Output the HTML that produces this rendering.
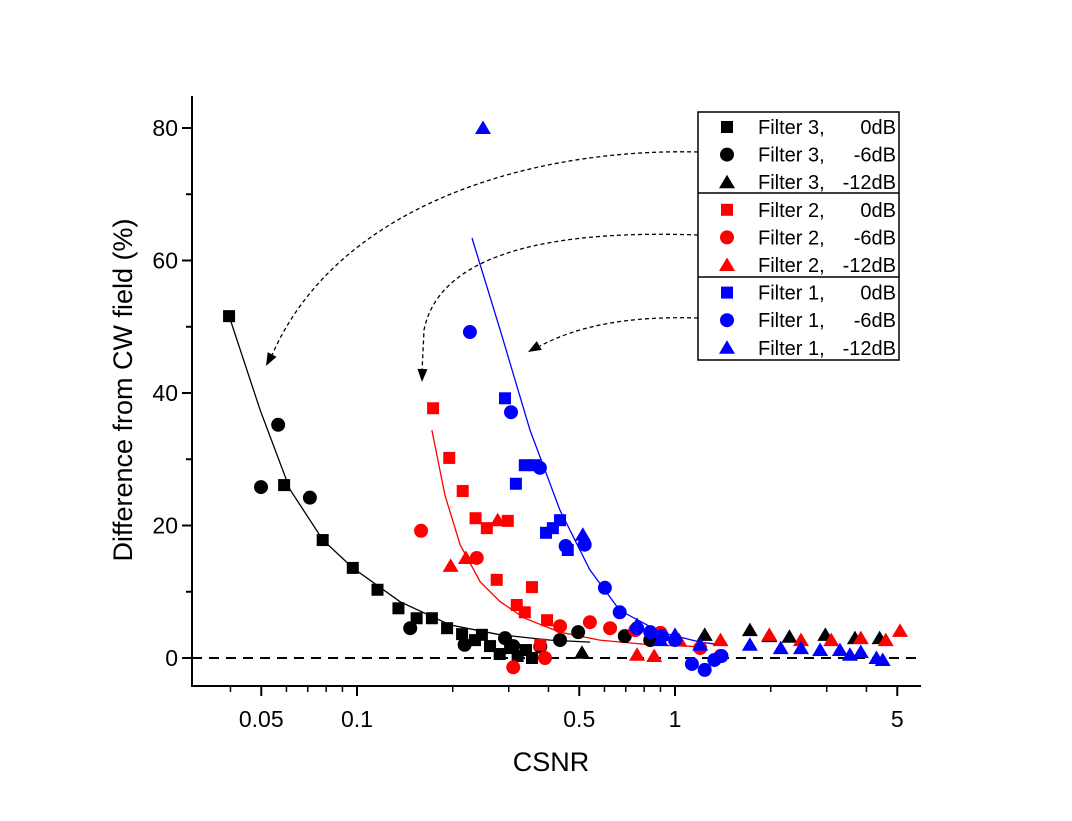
<!DOCTYPE html>
<html><head><meta charset="utf-8"><style>
html,body{margin:0;padding:0;background:#fff;}
svg{display:block;font-family:"Liberation Sans",Arial,sans-serif;}
</style></head><body>
<svg id="chart" width="1072" height="821" viewBox="0 0 1072 821" xmlns="http://www.w3.org/2000/svg">
<rect width="1072" height="821" fill="#fff"/>
<g id="axes"></g>
<g id="plot"></g>
<g id="legend"></g>
</svg>
<script>
// ---- data ----
const xTicksMajor = [0.05, 0.1, 0.5, 1, 5];
const xTickLabels = ["0.05", "0.1", "0.5", "1", "5"];
const yTicksMajor = [0, 20, 40, 60, 80];
const yTicksMinor = [10, 30, 50, 70];

const f3_0dB_x = [0.0396,0.059,0.078,0.097,0.116,0.135,0.154,0.172,0.192,0.214,0.235,0.247,0.262,0.281,0.303,0.32,0.34,0.355];
const f3_0dB_y = [51.6,26.1,17.8,13.6,10.3,7.5,6.0,6.0,4.5,3.6,2.7,3.5,1.8,0.6,1.5,0.3,1.2,0.0];
const f3_6dB_x = [0.0499,0.0565,0.0711,0.147,0.218,0.292,0.31,0.377,0.435,0.496,0.695,0.836];
const f3_6dB_y = [25.8,35.2,24.2,4.5,2.0,3.0,1.8,1.7,2.7,3.9,3.3,2.7];
const f3_12dB_x = [0.51,1.24,1.72,1.98,2.29,2.97,3.68,4.4];
const f3_12dB_y = [0.8,3.5,4.2,3.3,3.2,3.5,3.0,3.0];

const f2_0dB_x = [0.1735,0.195,0.215,0.236,0.256,0.298,0.275,0.355,0.318,0.337,0.396,0.377];
const f2_0dB_y = [37.7,30.2,25.2,21.1,19.6,20.7,11.8,10.7,8.0,6.9,5.7,2.0];
const f2_6dB_x = [0.159,0.238,0.31,0.39,0.435,0.54,0.625,0.75,0.9,1.2,1.39];
const f2_6dB_y = [19.2,15.1,-1.4,0.0,4.8,5.4,4.5,4.2,3.8,1.5,0.3];
const f2_12dB_x = [0.197,0.22,0.277,0.76,0.86,1.03,1.39,1.98,2.49,3.1,3.84,4.6,5.1];
const f2_12dB_y = [13.9,15.1,20.8,0.5,0.3,2.7,2.7,3.5,2.7,2.7,3.0,2.7,4.1];

const f1_0dB_x = [0.292,0.316,0.337,0.362,0.393,0.413,0.435,0.46];
const f1_0dB_y = [39.2,26.3,29.1,29.1,18.9,19.6,20.8,16.3];
const f1_6dB_x = [0.2265,0.305,0.376,0.453,0.52,0.602,0.67,0.76,0.836,0.91,1.0,1.13,1.24,1.33,1.4];
const f1_6dB_y = [49.2,37.1,28.7,16.9,17.1,10.6,6.9,4.5,3.9,3.3,2.7,-0.9,-1.8,-0.3,0.3];
const f1_12dB_x = [0.249,0.513,0.76,0.9,1.0,1.2,1.72,2.15,2.49,2.86,3.3,3.55,3.84,4.3,4.5];
const f1_12dB_y = [80,18.6,5.0,2.7,3.5,2.0,2.0,1.5,1.5,1.2,1.2,0.5,0.9,0.0,-0.3];

const fit3_x = [0.0396,0.0496,0.0616,0.0782,0.097,0.1365,0.196,0.282,0.405,0.541];
const fit3_y = [51.6,37.4,25.4,17.8,13.6,8.5,5.0,3.5,2.7,2.4];
const fit2_x = [0.172,0.189,0.211,0.244,0.282,0.337,0.435,0.58,0.836,1.2];
const fit2_y = [34.4,24.6,17.1,11.5,8.5,6.0,3.9,2.7,2.0,1.7];
const fit1_x = [0.23,0.282,0.35,0.435,0.54,0.67,0.9,1.2,1.4];
const fit1_y = [63.4,49.5,34.4,22.3,13.3,7.2,3.9,2.4,2.0];

const legendFilters = ["Filter 3,","Filter 3,","Filter 3,","Filter 2,","Filter 2,","Filter 2,","Filter 1,","Filter 1,","Filter 1,"];
const legendLevels = ["0dB","-6dB","-12dB","0dB","-6dB","-12dB","0dB","-6dB","-12dB"];

// ---- scales ----
const X0 = 357, PXDEC = 318, Y0 = 658, PXU = 6.625;
const AX_L = 192, AX_R = 921, AX_T = 96, AX_B = 686;
function sx(v){ return X0 + PXDEC*Math.log10(v/0.1); }
function sy(v){ return Y0 - PXU*v; }

const NS = "http://www.w3.org/2000/svg";
function mk(tag, attrs, parent){
  const e = document.createElementNS(NS, tag);
  for (const k in attrs) e.setAttribute(k, attrs[k]);
  parent.appendChild(e);
  return e;
}
const axes = document.getElementById('axes');
const plot = document.getElementById('plot');
const legend = document.getElementById('legend');

let l = mk('path', {d:`M${AX_L},${AX_T} V${AX_B} H${AX_R}`, fill:'none', stroke:'#000', 'stroke-width':2}, axes);



yTicksMajor.forEach(v => {
  const y = sy(v);
  let t = mk('line', {x1:AX_L-10, x2:AX_L, y1:y, y2:y, stroke:'#000','stroke-width':2}, axes);
  
  
  let tx = mk('text', {x:AX_L-14, y:y+8, 'text-anchor':'end', 'font-size':23}, axes);
  tx.textContent = v;
  
  
});
yTicksMinor.forEach(v => {
  const y = sy(v);
  let t = mk('line', {x1:AX_L-6, x2:AX_L, y1:y, y2:y, stroke:'#000','stroke-width':2}, axes);
  
  
});
xTicksMajor.forEach((v,i) => {
  const x = sx(v);
  let t = mk('line', {x1:x, x2:x, y1:AX_B, y2:AX_B+10, stroke:'#000','stroke-width':2}, axes);
  
  
  let tx = mk('text', {x:x, y:AX_B+41, 'text-anchor':'middle', 'font-size':23}, axes);
  tx.textContent = xTickLabels[i];
  
  
});
[0.04,0.06,0.07,0.08,0.09,0.2,0.3,0.4,0.6,0.7,0.8,0.9,2,3,4].forEach(v => {
  const x = sx(v);
  let t = mk('line', {x1:x, x2:x, y1:AX_B, y2:AX_B+6, stroke:'#000','stroke-width':1.5}, axes);
  
  
});
let xt = mk('text', {x:551, y:771, 'text-anchor':'middle', 'font-size':27}, axes);
xt.textContent = 'CSNR';


let yt = mk('text', {x:0, y:0, 'text-anchor':'middle', 'font-size':27, transform:'translate(132,390) rotate(-90)'}, axes);
yt.textContent = 'Difference from CW field (%)';



let zl = mk('line', {x1:AX_L, x2:AX_R, y1:sy(0), y2:sy(0), stroke:'#000', 'stroke-width':2, 'stroke-dasharray':'10,7'}, plot);



function fit(xs, ys, color, name){
  const d = xs.map((v,i)=>(i?'L':'M')+sx(v).toFixed(1)+','+sy(ys[i]).toFixed(1)).join(' ');
  let p = mk('path', {d:d, fill:'none', stroke:color, 'stroke-width':1.3}, plot);
  
  
}
fit(fit3_x, fit3_y, '#000', 'fit-line-filter3');
fit(fit2_x, fit2_y, '#f00', 'fit-line-filter2');
fit(fit1_x, fit1_y, '#00f', 'fit-line-filter1');

function marker(shape, cx, cy, color, parent){
  let e;
  if (shape==='sq') e = mk('rect', {x:cx-6, y:cy-6, width:12, height:12, fill:color}, parent);
  else if (shape==='ci') e = mk('circle', {cx:cx, cy:cy, r:7, fill:color}, parent);
  else e = mk('polygon', {points:`${cx},${cy-7.5} ${cx+8},${cy+6} ${cx-8},${cy+6}`, fill:color}, parent);
  return e;
}
function series(xs, ys, shape, color, name){
  const g = mk('g', {}, plot);
  
  
  xs.forEach((v,i)=>{
    const m = marker(shape, sx(v), sy(ys[i]), color, g);
    
    
  });
}
series(f3_0dB_x, f3_0dB_y, 'sq', '#000', 'filter3-0db');
series(f3_6dB_x, f3_6dB_y, 'ci', '#000', 'filter3-6db');
series(f3_12dB_x, f3_12dB_y, 'tr', '#000', 'filter3-12db');
series(f2_0dB_x, f2_0dB_y, 'sq', '#f00', 'filter2-0db');
series(f2_6dB_x, f2_6dB_y, 'ci', '#f00', 'filter2-6db');
series(f2_12dB_x, f2_12dB_y, 'tr', '#f00', 'filter2-12db');
series(f1_0dB_x, f1_0dB_y, 'sq', '#00f', 'filter1-0db');
series(f1_6dB_x, f1_6dB_y, 'ci', '#00f', 'filter1-6db');
series(f1_12dB_x, f1_12dB_y, 'tr', '#00f', 'filter1-12db');

function arrow(d, tip, ang, name){
  const g = mk('g', {}, plot);
  
  
  mk('path', {d:d, fill:'none', stroke:'#000', 'stroke-width':1.3, 'stroke-dasharray':'4,3'}, g);
  const [tx,ty] = tip;
  const a = ang*Math.PI/180, L=13, W=5;
  const bx = tx - L*Math.cos(a), by = ty - L*Math.sin(a);
  const px = -Math.sin(a)*W, py = Math.cos(a)*W;
  mk('polygon', {points:`${tx},${ty} ${bx+px},${by+py} ${bx-px},${by-py}`, fill:'#000'}, g);
}
arrow('M698,152 C540,148 340,200 272,355', [266,366], 118, 'arrow-filter3');
arrow('M698,235 C560,230 440,250 424,330 L422,372', [422,382], 92, 'arrow-filter2');
arrow('M698,318 C630,316 580,325 540,346', [528,352], 150, 'arrow-filter1');

const LX=698, LY=112, LW=201, LH=248;
let box = mk('rect', {x:LX, y:LY, width:LW, height:LH, fill:'#fff', stroke:'#000', 'stroke-width':1.5}, legend);


[193, 277].forEach(y=>{
  let d = mk('line', {x1:LX, x2:LX+LW, y1:y, y2:y, stroke:'#000','stroke-width':1.5}, legend);
  
  
});
const shapes = ['sq','ci','tr'], colors = ['#000','#f00','#00f'];
legendFilters.forEach((lab,i)=>{
  const g = mk('g', {}, legend);
  
  
  const cy = 127 + i*27.6;
  marker(shapes[i%3], 727, cy, colors[Math.floor(i/3)], g);
  const t1 = mk('text', {x:758, y:cy+7, 'font-size':20}, g);
  t1.textContent = lab;
  const t2 = mk('text', {x:896, y:cy+7, 'text-anchor':'end', 'font-size':20}, g);
  t2.textContent = legendLevels[i];
});
</script>
</body></html>
